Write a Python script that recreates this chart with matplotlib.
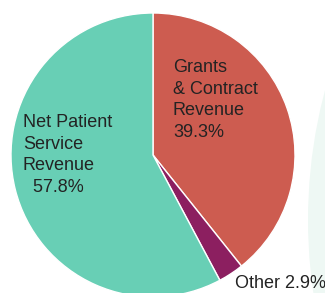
import matplotlib
matplotlib.use("Agg")
import matplotlib.pyplot as plt
from matplotlib.patches import Circle

# revenue shares, clockwise from 12 o'clock
labels = ["Grants\n& Contract\nRevenue\n39.3%", "Other 2.9%", "Net Patient\nService\nRevenue\n  57.8%"]
shares = [39.3, 2.9, 57.8]
colors = ["#cd5c50", "#8c1f60", "#68cfb5"]

W, H = 325, 293
fig = plt.figure(figsize=(W / 100, H / 100), dpi=100)
ax = fig.add_axes([0, 0, 1, 1])

# faint circle of the neighbouring chart on the right
ax.add_patch(Circle((813, H - 220), 505, facecolor="#eef8f4", edgecolor="none", zorder=0))

ax.pie(shares, colors=colors, startangle=90, counterclock=False,
       center=(153, H - 155), radius=142, frame=True,
       wedgeprops=dict(edgecolor="white", linewidth=1.0))
ax.set_xlim(0, W)
ax.set_ylim(0, H)
ax.set_aspect("equal")
ax.axis("off")

font = dict(family=["Liberation Sans", "DejaVu Sans"], fontsize=13, color="#232323",
            linespacing=1.36, ha="left", va="top")
ax.text(173, H - 59, labels[0], **font)
ax.text(23, H - 114, labels[2], **font)
ax.text(235, H - 283, labels[1], **{**font, "va": "center"})

fig.savefig("out.png", dpi=100)
